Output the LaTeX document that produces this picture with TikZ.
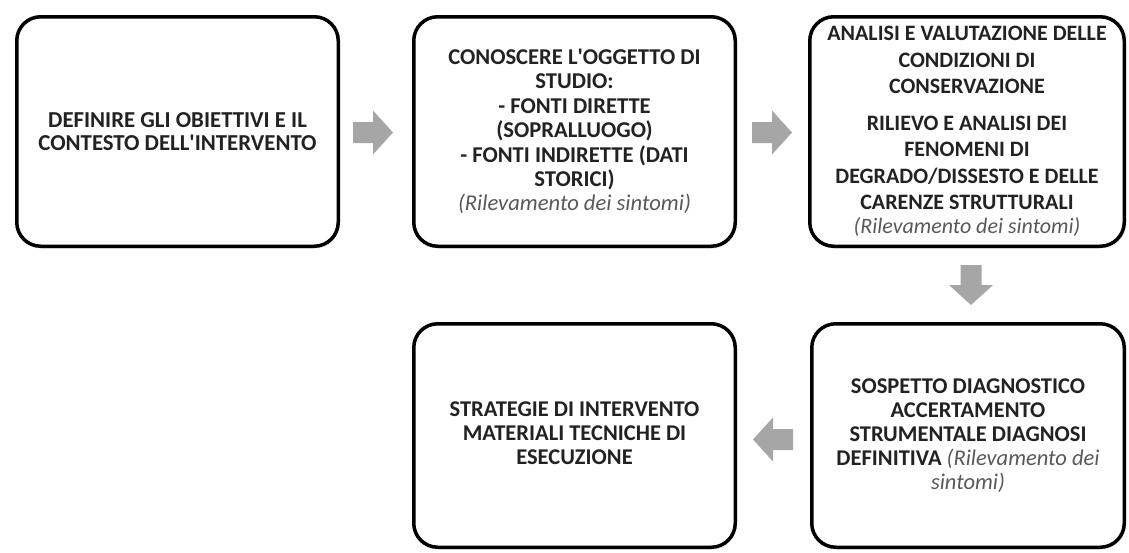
\documentclass[tikz,border=0pt]{standalone}
\usepackage{fontspec}
\setmainfont{Carlito}
\usetikzlibrary{shadows}
\definecolor{arrowgray}{HTML}{A6A6A6}
\definecolor{txt}{HTML}{222222}
\definecolor{ital}{HTML}{595959}
\newcommand\rilev[1]{{\mdseries\itshape\color{ital}#1}}
\newcommand\apo{\textquotesingle}
\begin{document}
\begin{tikzpicture}[x=1pt,y=-1pt,
  box/.style={draw=black, line width=3.5pt, rounded corners=24pt, fill=white,
    align=center, text=txt, inner sep=0pt,
    drop shadow={opacity=0.12, shadow xshift=1pt, shadow yshift=-2.5pt},
    font=\bfseries\fontsize{22.5}{24}\selectfont},
  barrow/.pic={\fill[arrowgray] (0,-10.5) -- (20,-10.5) -- (20,-22) -- (40,0) -- (20,22) -- (20,10.5) -- (0,10.5) -- cycle;}
]
\useasboundingbox (0,0) rectangle (1129,552);

\node[box, minimum width=321.5pt, minimum height=229.5pt,
  font=\bfseries\fontsize{22.8}{23}\selectfont] (b1) at (177.5,131.5)
  {DEFINIRE GLI OBIETTIVI E IL\\CONTESTO DELL\apo INTERVENTO};

\node[box, minimum width=321.5pt, minimum height=229.5pt,
  font=\bfseries\fontsize{22.6}{24.4}\selectfont] (b2) at (574.5,131.5)
  {CONOSCERE L\apo OGGETTO DI\\STUDIO:\\- FONTI DIRETTE\\(SOPRALLUOGO)\\- FONTI INDIRETTE (DATI\\STORICI)\\\rilev{(Rilevamento dei sintomi)}};

\node[box, minimum width=314.5pt, minimum height=229.5pt,
  font=\bfseries\fontsize{22}{26.5}\selectfont] (b3) at (967,131.5)
  {ANALISI E VALUTAZIONE DELLE\\CONDIZIONI DI\\CONSERVAZIONE\\[10pt]RILIEVO E ANALISI DEI\\FENOMENI DI\\DEGRADO/DISSESTO E DELLE\\CARENZE STRUTTURALI\\[-3pt]\rilev{(Rilevamento dei sintomi)}};

\node[box, minimum width=312.5pt, minimum height=223.5pt] (b4) at (968,435.5)
  {SOSPETTO DIAGNOSTICO\\ACCERTAMENTO\\STRUMENTALE DIAGNOSI\\DEFINITIVA \rilev{(Rilevamento dei}\\\rilev{sintomi)}};

\node[box, minimum width=321.5pt, minimum height=223.5pt] (b5) at (574.5,435.5)
  {\raisebox{-6pt}{\begin{tabular}{@{}c@{}}STRATEGIE DI INTERVENTO\\MATERIALI TECNICHE DI\\ESECUZIONE\end{tabular}}};

\pic at ([xshift=13pt,yshift=-1pt]b1.east) {barrow};
\pic at ([xshift=15pt,yshift=-1pt]b2.east) {barrow};
\pic[rotate=-90] at ([xshift=4pt,yshift=-17pt]b3.south) {barrow};
\pic[rotate=180] at ([xshift=-17pt,yshift=-4pt]b4.west) {barrow};
\end{tikzpicture}
\end{document}
